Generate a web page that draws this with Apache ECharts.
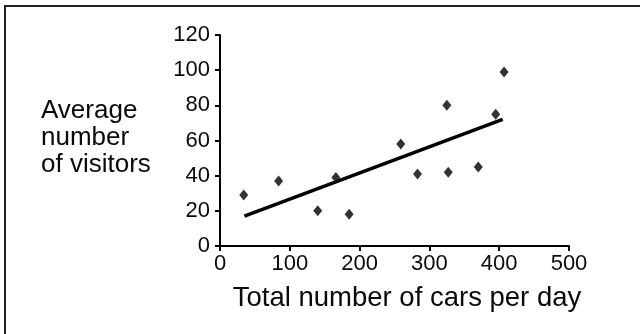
<!DOCTYPE html>
<html>
<head>
<meta charset="utf-8">
<script src="https://cdn.jsdelivr.net/npm/echarts@6/dist/echarts.min.js"></script>
<style>html,body{margin:0;padding:0;background:#fff;}#c{width:640px;height:334px;}</style>
</head>
<body>
<div id="c"></div>
<script>
const carsPerDay = [34, 84, 140, 166, 185, 259, 283, 325, 327, 370, 395, 407];
const visitors   = [29, 37, 20, 39, 18, 58, 41, 80, 42, 45, 75, 99];
const trendX = [35, 405];
const trendY = [17, 72];
const xTicks = [0, 100, 200, 300, 400, 500];
const yTicks = [0, 20, 40, 60, 80, 100, 120];
const xTitle = 'Total number of cars per day';
const yTitleLines = ['Average', 'number', 'of visitors'];

const FONT = 'Liberation Sans';
const chart = echarts.init(document.getElementById('c'), null, {renderer: 'canvas'});
const axisCommon = {
  axisLine: {show: true, lineStyle: {color: '#000', width: 2}},
  axisTick: {show: true, length: 5, inside: false, lineStyle: {color: '#000', width: 2}},
  splitLine: {show: false},
  axisLabel: {color: '#0a0a0a', fontFamily: FONT, fontSize: 22}
};
chart.setOption({
  animation: false,
  backgroundColor: '#fff',
  grid: {left: 220, right: 71, top: 35, bottom: 88},
  xAxis: Object.assign({}, axisCommon, {
    type: 'value', min: xTicks[0], max: xTicks[xTicks.length - 1], interval: 100,
    axisLabel: Object.assign({}, axisCommon.axisLabel, {margin: 7})
  }),
  yAxis: Object.assign({}, axisCommon, {
    type: 'value', min: yTicks[0], max: yTicks[yTicks.length - 1], interval: 20,
    axisLabel: Object.assign({}, axisCommon.axisLabel, {margin: 10, padding: [5, 0, 0, 0]})
  }),
  graphic: [
    {type: 'line', shape: {x1: 4, y1: 6, x2: 640, y2: 6}, style: {stroke: '#222', lineWidth: 2}},
    {type: 'line', shape: {x1: 5, y1: 6, x2: 5, y2: 334}, style: {stroke: '#222', lineWidth: 2}},
    {type: 'text', x: 41, y: 97, style: {text: yTitleLines.join('\n'), font: '26px ' + FONT, fill: '#0a0a0a', lineHeight: 27, align: 'left', verticalAlign: 'top'}},
    {type: 'text', x: 407, y: 284, style: {text: xTitle, font: '27.5px ' + FONT, fill: '#0a0a0a', align: 'center', verticalAlign: 'top'}}
  ],
  series: [
    {
      type: 'line', data: trendX.map((x, i) => [x, trendY[i]]),
      symbol: 'none', lineStyle: {color: '#000', width: 3.5}, z: 2
    },
    {
      type: 'scatter', data: carsPerDay.map((x, i) => [x, visitors[i]]),
      symbol: 'diamond', symbolSize: [9, 11], itemStyle: {color: '#000'}, z: 3
    }
  ]
});
</script>
</body>
</html>
